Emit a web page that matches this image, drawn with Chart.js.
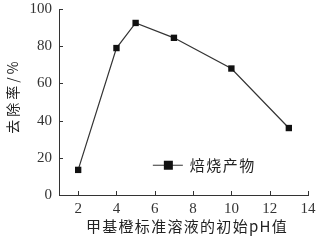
<!DOCTYPE html>
<html>
<head>
<meta charset="utf-8">
<script src="https://cdn.jsdelivr.net/npm/chart.js@4/dist/chart.umd.min.js"></script>
<style>
  html, body { margin: 0; padding: 0; background: #fff; }
  #wrap { width: 320px; height: 240px; }
</style>
</head>
<body>
<div id="wrap"><canvas id="c" width="320" height="240"></canvas></div>
<script>
const phValues = [2, 4, 5, 7, 10, 13];
const removalRate = [13.5, 79, 92.5, 84.5, 68, 36];
const seriesName = "焙烧产物";
const xTitle = "甲基橙标准溶液的初始pH值";
const yTitle = "去除率/%";
const xTicks = [2, 4, 6, 8, 10, 12, 14];
const yTicks = [0, 20, 40, 60, 80, 100];

const serif = "'Liberation Serif', 'DejaVu Serif', serif";
const cjk = "'Noto Sans CJK SC', sans-serif";

// inward ticks, axis titles with letter spacing, legend inside the plot
const extras = {
    id: 'extras',
    afterDraw(chart) {
        const ctx = chart.ctx;
        const xs = chart.scales.x, ys = chart.scales.y;
        ctx.save();
        ctx.strokeStyle = '#333';
        ctx.lineWidth = 1;
        xTicks.forEach((v) => {
            const px = Math.round(xs.getPixelForValue(v)) + 0.5;
            ctx.beginPath();
            ctx.moveTo(px, ys.bottom);
            ctx.lineTo(px, ys.bottom - 4);
            ctx.stroke();
        });
        yTicks.forEach((v) => {
            const py = Math.round(ys.getPixelForValue(v)) + 0.5;
            ctx.beginPath();
            ctx.moveTo(xs.left, py);
            ctx.lineTo(xs.left + 4, py);
            ctx.stroke();
        });
        // legend
        const lx = xs.getPixelForValue(5.9), ly = ys.getPixelForValue(16);
        ctx.beginPath();
        ctx.moveTo(lx, ly);
        ctx.lineTo(lx + 30, ly);
        ctx.stroke();
        ctx.fillStyle = '#111';
        ctx.fillRect(lx + 11, ly - 4.5, 9, 9);
        ctx.fillStyle = '#222';
        ctx.font = "15px " + cjk;
        ctx.letterSpacing = '1.5px';
        ctx.textBaseline = 'middle';
        ctx.textAlign = 'left';
        ctx.fillText(seriesName, lx + 37, ly);
        // x title
        ctx.letterSpacing = '1.3px';
        ctx.textAlign = 'center';
        ctx.fillText(xTitle, 187, 226);
        // y title
        ctx.translate(13, 96);
        ctx.rotate(-Math.PI / 2);
        ctx.font = "14px " + cjk;
        ctx.letterSpacing = '3px';
        ctx.fillText(yTitle, 0, 0);
        ctx.restore();
    }
};

new Chart(document.getElementById('c').getContext('2d'), {
    type: 'scatter',
    data: {
        datasets: [{
            label: seriesName,
            data: phValues.map((x, i) => ({x: x, y: removalRate[i]})),
            showLine: true,
            borderColor: '#333',
            borderWidth: 1.2,
            backgroundColor: '#111',
            pointStyle: 'rect',
            pointRadius: 4.5,
            pointBorderWidth: 0
        }]
    },
    options: {
        responsive: false,
        animation: false,
        layout: { padding: { top: 9, right: 12, left: 0, bottom: 0 } },
        plugins: { legend: { display: false }, tooltip: { enabled: false } },
        scales: {
            x: {
                type: 'linear', min: 1, max: 14,
                afterBuildTicks: (s) => { s.ticks = xTicks.map(v => ({value: v})); },
                afterFit: (s) => { s.height = 45; s.paddingLeft = 0; s.paddingRight = 0; },
                grid: { display: false, drawTicks: false },
                border: { color: '#333', width: 1 },
                ticks: { color: '#333', font: { family: serif, size: 15 }, padding: 5 }
            },
            y: {
                min: 0, max: 100,
                afterBuildTicks: (s) => { s.ticks = yTicks.map(v => ({value: v})); },
                afterFit: (s) => { s.width = 59; s.paddingTop = 0; s.paddingBottom = 0; },
                grid: { display: false, drawTicks: false },
                border: { color: '#333', width: 1 },
                ticks: { color: '#333', font: { family: serif, size: 15 }, padding: 7 }
            }
        }
    },
    plugins: [extras]
});
</script>
</body>
</html>
